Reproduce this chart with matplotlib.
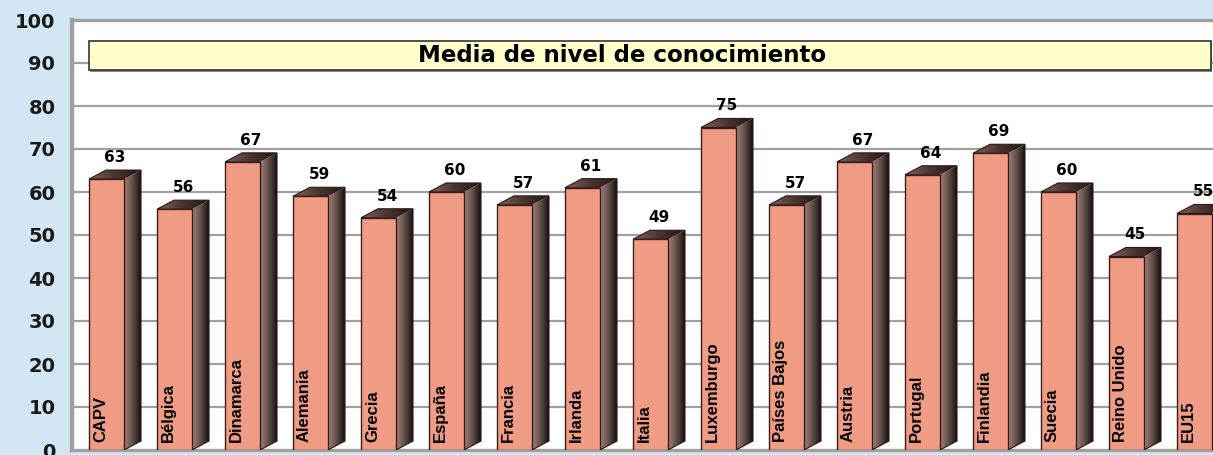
import numpy as np
import matplotlib.pyplot as plt
from matplotlib.patches import Polygon, Rectangle
from matplotlib.colors import LinearSegmentedColormap

# Data
paises = ["CAPV", "Bélgica", "Dinamarca", "Alemania", "Grecia", "España",
          "Francia", "Irlanda", "Italia", "Luxemburgo", "Países Bajos",
          "Austria", "Portugal", "Finlandia", "Suecia", "Reino Unido", "EU15"]
valores = [63, 56, 67, 59, 54, 60, 57, 61, 49, 75, 57, 67, 64, 69, 60, 45, 55]
titulo = "Media de nivel de conocimiento"

fondo = "#D2E6F4"
frente = "#F09C84"
gris = "#A0A0A0"

# bar geometry (data units): front width, 3d depth offsets
ancho = 0.515
dx = 0.25
dy = 2.1

plt.rcParams['font.family'] = ['DejaVu Sans']

fig = plt.figure(figsize=(12.13, 4.55), dpi=100, facecolor=fondo)
ax = fig.add_axes([72 / 1213, 5 / 455, 1 - 72 / 1213, 430 / 455])
ax.set_facecolor("white")
ax.set_xlim(-0.25, 16.53)
ax.set_ylim(0, 100)

# gridlines
for yv in range(10, 100, 10):
    ax.axhline(yv, color=gris, lw=1.6, zorder=1)

ax.set_yticks(range(0, 101, 10))
ax.set_xticks([])
ax.tick_params(axis='y', length=0, pad=12, labelsize=14, labelcolor="#1a1a1a")
for lab in ax.get_yticklabels():
    lab.set_fontweight("bold")
for s in ax.spines.values():
    s.set_color(gris)
ax.spines['left'].set_linewidth(3.2)
ax.spines['top'].set_linewidth(2.4)
ax.spines['bottom'].set_linewidth(2.4)
ax.spines['right'].set_visible(False)

lado_cmap = LinearSegmentedColormap.from_list("lado", ["#a08078", "#64504a", "#161212"])
techo_cmap = LinearSegmentedColormap.from_list("techo", ["#806058", "#4a3430", "#1e1614"])
grad = np.linspace(0, 1, 64).reshape(1, -1)

for i, (pais, v) in enumerate(zip(paises, valores)):
    x0 = i
    x1 = i + ancho
    # side face
    lado = Polygon([(x1, 0), (x1 + dx, dy), (x1 + dx, v + dy), (x1, v)],
                   closed=True, facecolor="none", edgecolor="none")
    ax.add_patch(lado)
    im = ax.imshow(grad, cmap=lado_cmap, extent=(x1, x1 + dx, 0, v + dy),
                   aspect='auto', zorder=3, interpolation='bilinear')
    im.set_clip_path(lado)
    # top face
    techo = Polygon([(x0, v), (x1, v), (x1 + dx, v + dy), (x0 + dx, v + dy)],
                    closed=True, facecolor="none", edgecolor="none")
    ax.add_patch(techo)
    im2 = ax.imshow(grad, cmap=techo_cmap, extent=(x0, x1 + dx, v, v + dy),
                    aspect='auto', zorder=3, interpolation='bilinear')
    im2.set_clip_path(techo)
    ax.add_patch(Polygon([(x1, 0), (x1 + dx, dy), (x1 + dx, v + dy), (x0 + dx, v + dy),
                          (x0, v), (x1, v)], closed=True, facecolor="none",
                         edgecolor="#2a1a18", lw=0.8, zorder=4))
    # front face
    ax.add_patch(Rectangle((x0, 0), ancho, v, facecolor=frente,
                           edgecolor="#3a1e1a", lw=1.0, zorder=5))
    # value label
    ax.text(x0 + (ancho + dx) / 2, v + dy + 1.2, str(v), ha='center', va='bottom',
            fontsize=11, fontweight='bold', zorder=6)
    # country label inside bar
    ax.text(x0 + 0.17, 1.8, pais, rotation=90, ha='center', va='bottom',
            fontsize=12, fontweight='bold', zorder=6,
            family=['Liberation Sans Narrow', 'Liberation Sans', 'DejaVu Sans'])

# title box
ax.add_patch(Rectangle((0.02, 87.8), 16.5, 7.2, facecolor="#8a8a80",
                       edgecolor="none", zorder=6))
ax.add_patch(Rectangle((0, 88.4), 16.5, 6.8, facecolor="#FFFFCC",
                       edgecolor="#333333", lw=1.2, zorder=7))
ax.text(7.84, 91.8, titulo, ha='center', va='center', fontsize=16.5,
        fontweight='bold', zorder=8)

fig.savefig("out.png", dpi=100, facecolor=fondo)
